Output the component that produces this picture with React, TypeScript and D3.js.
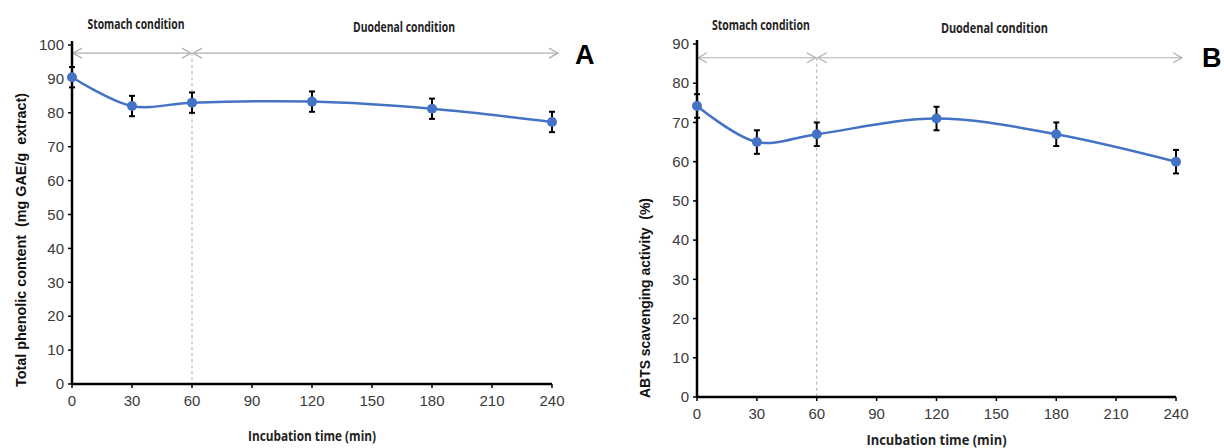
import * as d3 from "d3";

const times = [0, 30, 60, 120, 180, 240];
const xTicks = [0, 30, 60, 90, 120, 150, 180, 210, 240];
const phenolic = [90.5, 82, 83, 83.3, 81.2, 77.3];
const phenolicErr = [3, 3, 3, 3, 3, 3];
const abts = [74.2, 65, 67, 71, 67, 60];
const abtsErr = [3, 3, 3, 3, 3, 3];
const phenolicTicks = [0, 10, 20, 30, 40, 50, 60, 70, 80, 90, 100];
const abtsTicks = [0, 10, 20, 30, 40, 50, 60, 70, 80, 90];

const BLUE = "#4472c4";
const SANS = "'Liberation Sans', Arial, sans-serif";
const NARROW = "'Open Sans', 'Liberation Sans', sans-serif";

function Panel({ left, right, top, bottom, yMax, yTicks, values, errs, yTitle, yTitleLen, yTitleMid, letter, letterX, letterY, arrowV, labelY, xTitleY, yTitleX, stomachLen, duoLen, duoMid, xTitleLen }) {
  const x = d3.scaleLinear().domain([0, 240]).range([left, right]);
  const y = d3.scaleLinear().domain([0, yMax]).range([bottom, top]);
  const line = d3
    .line<number>()
    .x((d, i) => x(times[i]))
    .y((d) => y(d))
    .curve(d3.curveCatmullRom.alpha(0.5));
  const ay = y(arrowV);
  const endX = x(243);
  const head = (px, dir) => `M${px + dir * 9},${ay - 5} L${px},${ay} L${px + dir * 9},${ay + 5}`;

  return (
    <g>
      {/* condition arrows */}
      <g stroke="#b0b0b0" strokeWidth={1.2} fill="none">
        <line x1={x(0)} x2={x(60) - 1} y1={ay} y2={ay} />
        <path d={head(x(0) + 1, 1)} />
        <path d={head(x(60) - 1, -1)} />
        <line x1={x(60) + 1} x2={endX} y1={ay} y2={ay} />
        <path d={head(x(60) + 1, 1)} />
        <path d={head(endX, -1)} />
      </g>
      <line x1={x(60)} x2={x(60)} y1={ay} y2={bottom} stroke="#aaa" strokeDasharray="3,3" strokeWidth={1} />
      <text x={x(30) + 4} y={labelY} textAnchor="middle" fontFamily={NARROW} fontWeight="bold" fontSize={14} fill="#222" textLength={stomachLen} lengthAdjust="spacingAndGlyphs">
        Stomach condition
      </text>
      <text x={x(duoMid)} y={labelY + 3} textAnchor="middle" fontFamily={NARROW} fontWeight="bold" fontSize={14} fill="#222" textLength={duoLen} lengthAdjust="spacingAndGlyphs">
        Duodenal condition
      </text>
      <text x={letterX} y={letterY} fontFamily={SANS} fontWeight="bold" fontSize={27} fill="#000">
        {letter}
      </text>

      {/* axes */}
      <line x1={left} x2={left} y1={top - 4} y2={bottom} stroke="#000" strokeWidth={2.5} />
      <line x1={left} x2={right} y1={bottom} y2={bottom} stroke="#000" strokeWidth={2.5} />
      {yTicks.map((t) => (
        <g key={"y" + t}>
          <line x1={left - 4} x2={left} y1={y(t)} y2={y(t)} stroke="#000" strokeWidth={1.5} />
          <text x={left - 8} y={y(t)} dy="0.35em" textAnchor="end" fontFamily={SANS} fontSize={15} fill="#3a3a3a">
            {t}
          </text>
        </g>
      ))}
      {xTicks.map((t) => (
        <g key={"x" + t}>
          <line x1={x(t)} x2={x(t)} y1={bottom} y2={bottom + 4} stroke="#000" strokeWidth={1.5} />
          <text x={x(t)} y={bottom + 22} textAnchor="middle" fontFamily={SANS} fontSize={15} fill="#3a3a3a">
            {t}
          </text>
        </g>
      ))}
      <text x={(left + right) / 2} y={xTitleY} textAnchor="middle" fontFamily={NARROW} fontWeight="bold" fontSize={14} fill="#222" textLength={xTitleLen} lengthAdjust="spacingAndGlyphs">
        Incubation time (min)
      </text>
      <text
        transform={`translate(${yTitleX},${yTitleMid}) rotate(-90)`}
        textAnchor="middle"
        fontFamily={SANS}
        fontWeight="bold"
        fontSize={14}
        fill="#111"
        textLength={yTitleLen}
        lengthAdjust="spacingAndGlyphs"
        style={{ whiteSpace: "pre" }}
      >
        {yTitle}
      </text>

      {/* series */}
      <path d={line(values) || ""} fill="none" stroke={BLUE} strokeWidth={2.5} />
      {values.map((v, i) => (
        <g key={"e" + i} stroke="#000" strokeWidth={2}>
          <line x1={x(times[i])} x2={x(times[i])} y1={y(v - errs[i])} y2={y(v + errs[i])} />
          <line x1={x(times[i]) - 3} x2={x(times[i]) + 3} y1={y(v - errs[i])} y2={y(v - errs[i])} />
          <line x1={x(times[i]) - 3} x2={x(times[i]) + 3} y1={y(v + errs[i])} y2={y(v + errs[i])} />
        </g>
      ))}
      {values.map((v, i) => (
        <circle key={"c" + i} cx={x(times[i])} cy={y(v)} r={5} fill={BLUE} />
      ))}
    </g>
  );
}

export default function App() {
  return (
    <svg width={1224} height={448} style={{ position: "absolute", left: 0, top: 0, background: "#fff" }}>
      <Panel
        left={72}
        right={552}
        top={45}
        bottom={384}
        yMax={100}
        yTicks={phenolicTicks}
        values={phenolic}
        errs={phenolicErr}
        yTitle="Total phenolic content  (mg GAE/g  extract)"
        yTitleLen={294}
        yTitleMid={240}
        letter="A"
        letterX={575}
        letterY={64}
        arrowV={97.6}
        labelY={29}
        xTitleY={441}
        yTitleX={26}
        stomachLen={97}
        duoLen={102}
        duoMid={166}
        xTitleLen={128}
      />
      <Panel
        left={697}
        right={1176}
        top={44}
        bottom={397}
        yMax={90}
        yTicks={abtsTicks}
        values={abts}
        errs={abtsErr}
        yTitle="ABTS scavenging activity  (%)"
        yTitleLen={200}
        yTitleMid={298}
        letter="B"
        letterX={1202}
        letterY={67}
        arrowV={86.5}
        labelY={30}
        xTitleY={445}
        yTitleX={650}
        stomachLen={98}
        duoLen={107}
        duoMid={149}
        xTitleLen={140}
      />
    </svg>
  );
}
